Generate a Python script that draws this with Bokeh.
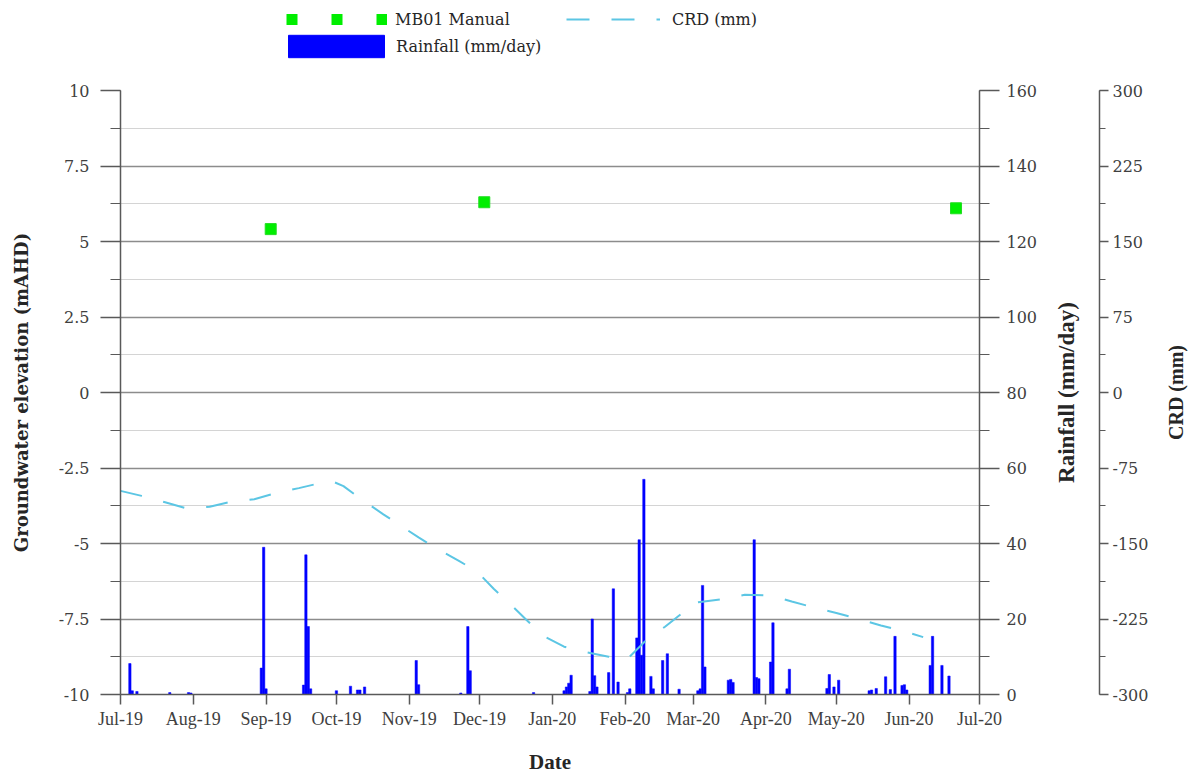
import math
import pandas as pd
from bokeh.plotting import figure
from bokeh.layouts import column, row
from bokeh.models import (Range1d, LinearAxis, SingleIntervalTicker, MonthsTicker,
                          DatetimeTickFormatter, CustomJSTickFormatter, Legend, LegendItem,
                          FixedTicker, ColumnDataSource)
from bokeh.embed import file_html
from bokeh.resources import INLINE

# ---------------- data ----------------
manual_dates = ["2019-09-03", "2019-12-03", "2020-06-21"]
manual_gw = [5.41, 6.30, 6.10]

rain_dates = [
    "2019-07-05", "2019-07-06", "2019-07-08", "2019-07-22", "2019-07-30", "2019-07-31",
    "2019-08-30", "2019-08-31", "2019-09-01", "2019-09-17", "2019-09-18", "2019-09-19",
    "2019-09-20", "2019-10-01", "2019-10-07", "2019-10-10", "2019-10-11", "2019-10-13",
    "2019-11-04", "2019-11-05", "2019-11-23", "2019-11-26", "2019-11-27", "2019-12-24",
    "2020-01-06", "2020-01-07", "2020-01-08", "2020-01-09", "2020-01-17", "2020-01-18",
    "2020-01-19", "2020-01-20", "2020-01-25", "2020-01-27", "2020-01-29", "2020-02-02",
    "2020-02-03", "2020-02-06", "2020-02-07", "2020-02-08", "2020-02-09", "2020-02-12",
    "2020-02-13", "2020-02-17", "2020-02-19", "2020-02-24", "2020-03-03", "2020-03-04",
    "2020-03-05", "2020-03-06", "2020-03-16", "2020-03-17", "2020-03-18", "2020-03-27",
    "2020-03-28", "2020-03-29", "2020-04-03", "2020-04-04", "2020-04-10", "2020-04-11",
    "2020-04-27", "2020-04-28", "2020-04-30", "2020-05-02", "2020-05-15", "2020-05-16",
    "2020-05-18", "2020-05-22", "2020-05-24", "2020-05-26", "2020-05-29", "2020-05-30",
    "2020-05-31", "2020-06-10", "2020-06-11", "2020-06-15", "2020-06-18",
]
rain_mm = [
    8.2, 1.0, 0.8, 0.5, 0.5, 0.4,
    7.0, 39.0, 1.5, 2.5, 37.0, 18.0,
    1.5, 1.0, 2.2, 1.2, 1.2, 2.0,
    9.0, 2.6, 0.4, 18.0, 6.3, 0.5,
    1.0, 2.0, 3.0, 5.1, 0.8, 20.0,
    5.0, 2.0, 5.8, 28.0, 3.3, 0.5,
    1.5, 15.0, 41.0, 10.4, 57.0, 4.8,
    1.5, 9.0, 10.8, 1.4, 1.0, 1.5,
    28.9, 7.3, 3.8, 4.0, 3.2, 41.0,
    4.5, 4.2, 8.6, 19.0, 1.5, 6.7,
    1.6, 5.3, 2.0, 3.8, 1.0, 1.2,
    1.6, 4.7, 1.3, 15.4, 2.4, 2.6,
    1.2, 7.7, 15.4, 7.7, 4.9,
]

crd_dates = [
    "2019-07-01", "2019-07-10", "2019-07-20", "2019-07-29", "2019-08-08", "2019-08-16",
    "2019-08-27", "2019-09-05", "2019-09-15", "2019-09-24", "2019-09-29", "2019-10-04",
    "2019-10-11", "2019-10-21", "2019-11-05", "2019-11-13", "2019-11-22", "2019-11-30",
    "2019-12-07", "2019-12-14", "2019-12-21", "2019-12-28", "2020-01-06", "2020-01-14",
    "2020-01-25", "2020-01-31", "2020-02-03", "2020-02-10", "2020-02-18", "2020-02-26",
    "2020-03-01", "2020-03-04", "2020-03-15", "2020-03-23", "2020-04-03", "2020-04-12",
    "2020-04-22", "2020-05-01", "2020-05-11", "2020-05-20", "2020-05-30", "2020-06-07",
]
crd_mm = [
    -97.7, -102.7, -109.0, -115.0, -113.5, -109.0,
    -106.0, -100.0, -95.0, -90.0, -88.0, -93.0,
    -105.0, -121.0, -144.0, -155.5, -167.0, -178.0,
    -195.0, -210.0, -226.0, -241.6, -252.5, -257.4,
    -262.4, -266.0, -262.4, -246.0, -232.7, -217.8,
    -209.0, -208.0, -205.0, -201.0, -201.7, -207.6,
    -214.0, -219.0, -225.4, -231.4, -237.3, -243.0,
]

x_start, x_end = "2019-07-01", "2020-07-01"
gw_range = (-10, 10)
rain_range = (0, 160)
crd_range = (-300, 300)

# ---------------- styles ----------------
GREEN = "#00ee00"
BLUE = "#0000ff"
CYAN = "#5cc6e4"
AXIS_COL = "#595959"
TICK_FONT = "DejaVu Serif"
LABEL_FONT = "Liberation Serif"
TOP, BOTTOM, ROW_H = 24, 80, 710

def clean(fig):
    fig.outline_line_color = None
    fig.background_fill_color = "white"
    fig.border_fill_color = "white"

def style_axis(ax, tick_out, minor_out):
    ax.axis_line_color = AXIS_COL
    ax.axis_line_width = 1.5
    ax.major_tick_line_color = AXIS_COL
    ax.major_tick_line_width = 1.5
    ax.minor_tick_line_color = AXIS_COL
    ax.minor_tick_line_width = 1.2
    ax.major_tick_in = 0
    ax.major_tick_out = tick_out
    ax.minor_tick_in = 0
    ax.minor_tick_out = minor_out
    ax.major_label_text_font = TICK_FONT
    ax.major_label_text_font_size = "16px"
    ax.major_label_text_color = "#404040"
    ax.axis_label_text_font = LABEL_FONT
    ax.axis_label_text_font_style = "bold"
    ax.axis_label_text_color = "#262626"

def label_axis(fig, text, standoff, size):
    ax = LinearAxis(ticker=FixedTicker(ticks=[], minor_ticks=[]), axis_label=text,
                    axis_line_alpha=0, major_tick_in=0, major_tick_out=0,
                    minor_tick_in=0, minor_tick_out=0, major_label_text_alpha=0,
                    axis_label_standoff=standoff)
    ax.axis_label_text_font = LABEL_FONT
    ax.axis_label_text_font_style = "bold"
    ax.axis_label_text_font_size = size
    ax.axis_label_text_color = "#262626"
    fig.add_layout(ax, "left")
    return ax

fmt_num = CustomJSTickFormatter(code="return String(tick);")

rain_src = ColumnDataSource(dict(x=pd.to_datetime(rain_dates), top=rain_mm))
crd_src = ColumnDataSource(dict(x=pd.to_datetime(crd_dates), y=crd_mm))
man_src = ColumnDataSource(dict(x=pd.to_datetime(manual_dates), y=manual_gw))

# ---------------- main chart ----------------
p = figure(width=1043, height=ROW_H, x_axis_type="datetime",
           x_range=Range1d(pd.Timestamp(x_start), pd.Timestamp(x_end)),
           y_range=Range1d(*gw_range),
           output_backend="svg", toolbar_location=None,
           min_border_left=120, min_border_top=TOP, min_border_right=64, min_border_bottom=BOTTOM)
clean(p)
p.extra_y_ranges = {"rain": Range1d(*rain_range), "crd": Range1d(*crd_range)}

p.vbar(x="x", top="top", bottom=0, width=86400000 * 1.0, source=rain_src,
       y_range_name="rain", fill_color=BLUE, line_color=BLUE, line_width=0.5)
p.line(x="x", y="y", source=crd_src, y_range_name="crd",
       line_color=CYAN, line_width=2, line_dash="22 22")
p.scatter(x="x", y="y", source=man_src, marker="square", size=11,
          fill_color=GREEN, line_color="#22dd22")

p.xgrid.grid_line_color = None
yg = p.ygrid[0]
yg.grid_line_color = "#8c8c8c"
yg.grid_line_width = 1.5
yg.minor_grid_line_color = "#d4d4d4"
yg.minor_grid_line_width = 1.2

ly = p.yaxis[0]
ly.ticker = SingleIntervalTicker(interval=2.5, num_minor_ticks=2)
ly.formatter = fmt_num
style_axis(ly, 20, 10)
ly.major_label_standoff = 11
ly.axis_label = "Groundwater elevation (mAHD)"
ly.axis_label_text_font = "DejaVu Serif"
ly.axis_label_text_font_size = "18px"
ly.axis_label_standoff = 24

lx = p.xaxis[0]
lx.ticker = MonthsTicker(months=list(range(12)))
lx.formatter = DatetimeTickFormatter(days="%b-%y", months="%b-%y", years="%b-%y")
style_axis(lx, 10, 0)
lx.major_label_text_font = LABEL_FONT
lx.major_label_text_font_size = "18px"
lx.major_label_standoff = 4
lx.axis_label = "Date"
lx.axis_label_text_font_size = "21px"
lx.axis_label_standoff = 18

rain_axis = LinearAxis(y_range_name="rain",
                       ticker=SingleIntervalTicker(interval=20, num_minor_ticks=2),
                       formatter=fmt_num)
style_axis(rain_axis, 20, 10)
rain_axis.major_label_standoff = 7
p.add_layout(rain_axis, "right")

# ---------------- CRD axis panel ----------------
p2 = figure(width=117, height=ROW_H, x_range=Range1d(0, 1), y_range=Range1d(*crd_range),
            output_backend="svg", toolbar_location=None, x_axis_location=None,
            y_axis_location="right",
            min_border_left=55, min_border_right=61, min_border_top=TOP, min_border_bottom=BOTTOM)
clean(p2)
p2.grid.grid_line_color = None
cy = p2.yaxis[0]
cy.ticker = SingleIntervalTicker(interval=75, num_minor_ticks=2)
cy.formatter = fmt_num
style_axis(cy, 9, 6)
cy.major_label_standoff = 4
label_axis(p2, "Rainfall (mm/day)", 20, "23px")

p3 = figure(width=30, height=ROW_H, x_range=Range1d(0, 1), y_range=Range1d(*crd_range),
            output_backend="svg", toolbar_location=None, x_axis_location=None,
            y_axis_location=None,
            min_border_left=29, min_border_right=0, min_border_top=TOP, min_border_bottom=BOTTOM)
clean(p3)
p3.grid.grid_line_color = None
label_axis(p3, "CRD (mm)", 3, "20px")

# ---------------- legend strip ----------------
# proxies share the chart's sources; their data lie outside this strip's ranges,
# so only their legend samples are seen
pl = figure(width=1190, height=66, x_range=Range1d(0, 1), y_range=Range1d(0, 1),
            output_backend="svg", toolbar_location=None, x_axis_location=None,
            y_axis_location=None, min_border=0)
clean(pl)
pl.grid.grid_line_color = None
lg_mb = pl.line(x="x", y="y", source=man_src, line_color=GREEN, line_width=11,
                line_dash="11 34", line_cap="butt")
lg_crd = pl.line(x="x", y="y", source=crd_src, line_color=CYAN, line_width=2, line_dash="23 22")
lg_rain = pl.vbar(x="x", top="top", source=rain_src, width=1, fill_color=BLUE, line_color=BLUE)

def mk_legend(item, loc, gw, gh, standoff):
    lg = Legend(items=[item], location=loc, orientation="horizontal",
                glyph_width=gw, glyph_height=gh, label_standoff=standoff,
                padding=0, margin=0, spacing=0, border_line_alpha=0,
                background_fill_alpha=0, label_text_font="DejaVu Serif",
                label_text_font_size="16px", label_text_color="#262626",
                label_height=gh)
    pl.add_layout(lg, "center")
    return lg

mk_legend(LegendItem(label="MB01 Manual", renderers=[lg_mb]), (286, 37), 101, 20, 8)
mk_legend(LegendItem(label="CRD (mm)", renderers=[lg_crd]), (566, 37), 94, 20, 12)
mk_legend(LegendItem(label="Rainfall (mm/day)", renderers=[lg_rain]), (276, 6), 120, 28, 0)

layout = column(pl, row(p, p2, p3, spacing=0), spacing=0)
open("out.html", "w").write(file_html(layout, INLINE))
